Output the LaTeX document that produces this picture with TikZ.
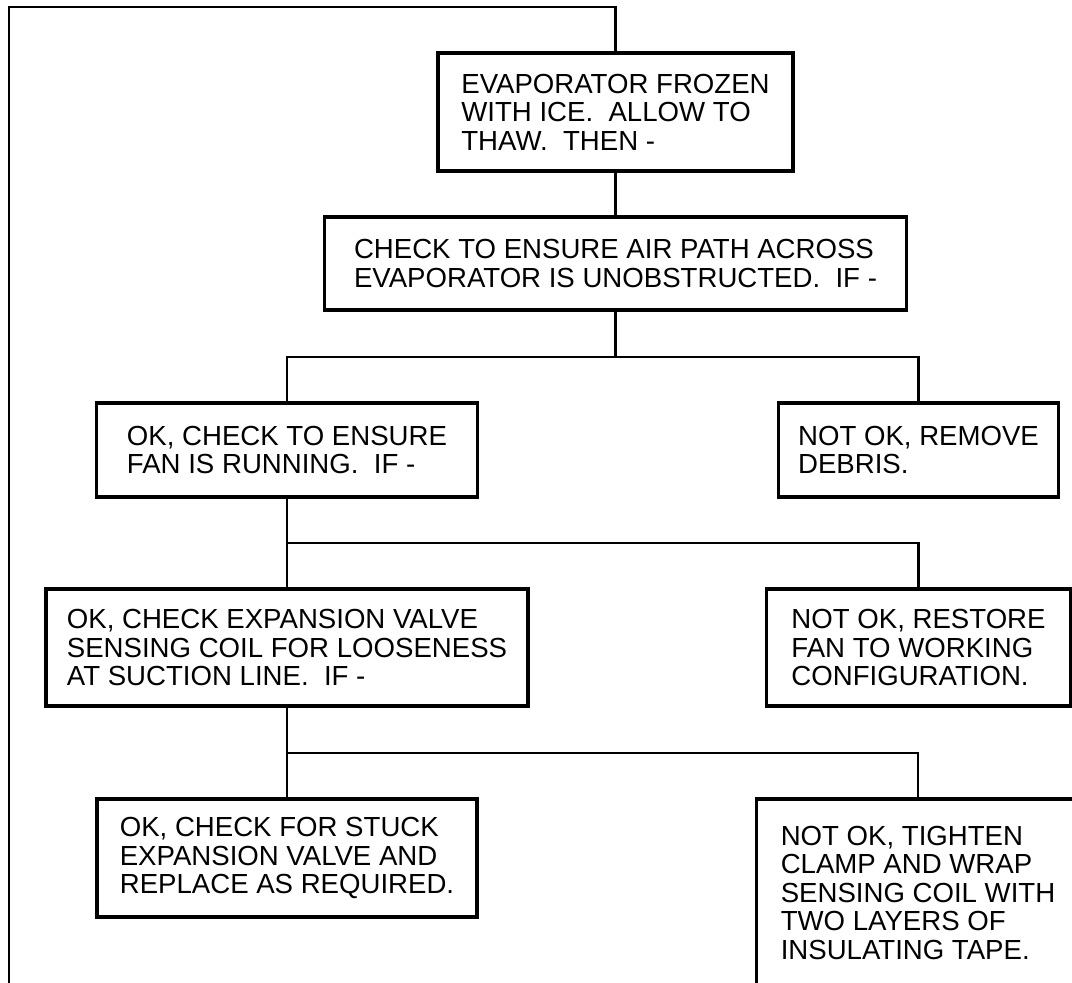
\documentclass[tikz,border=0pt]{standalone}
\usepackage{fontspec}
\setmainfont{Liberation Sans}
\tikzset{
  box/.style={draw, line width=3.2pt, align=left, inner sep=0pt, outer sep=0pt,
    font=\fontsize{27.6}{28.5}\selectfont},
  wire/.style={line width=2.7pt},
}
\begin{document}
\begin{tikzpicture}[x=1pt,y=-1pt]
\useasboundingbox (0,0) rectangle (1072,983);
\clip (0,0) rectangle (1072,983);
\node[box, minimum width=355pt, minimum height=118pt] (b1) at (615.5,112)
  {EVAPORATOR FROZEN\\WITH ICE.\ \ ALLOW TO\\THAW.\ \ THEN -};
\node[box, minimum width=582pt, minimum height=93pt] (b2) at (615.5,263.5)
  {CHECK TO ENSURE AIR PATH ACROSS\\EVAPORATOR IS UNOBSTRUCTED.\ \ IF -};
\node[box, minimum width=381pt, minimum height=94pt] (b3) at (287,450)
  {OK, CHECK TO ENSURE\\FAN IS RUNNING.\ \ IF -};
\node[box, minimum width=280pt, minimum height=94pt] (rm) at (918.5,450)
  {NOT OK, REMOVE\\DEBRIS.};
\node[box, minimum width=482pt, minimum height=117pt] (b4) at (287,647.5)
  {OK, CHECK EXPANSION VALVE\\SENSING COIL FOR LOOSENESS\\AT SUCTION LINE.\ \ IF -};
\node[box, minimum width=304pt, minimum height=117pt] (rs) at (918.5,647.5)
  {NOT OK, RESTORE\\FAN TO WORKING\\CONFIGURATION.};
\node[box, minimum width=380pt, minimum height=118pt] (b5) at (287,858)
  {OK, CHECK FOR STUCK\\EXPANSION VALVE AND\\REPLACE AS REQUIRED.};
\node[box, minimum width=323pt, minimum height=187pt] (b6) at (918,892.5)
  {NOT OK, TIGHTEN\\CLAMP AND WRAP\\SENSING COIL WITH\\TWO LAYERS OF\\INSULATING TAPE.};
\coordinate (bl) at (9,1000);
\coordinate (tl) at (9,7);
\coordinate (j1) at (615.5,357);
\coordinate (j2) at (287,543);
\coordinate (j3) at (287,753);
\draw[wire] (bl) -- (tl) -| (b1.north);
\draw[wire] (b1.south) -- (b2.north);
\draw[wire] (b2.south) -- (j1);
\draw[wire] (b3.north) |- (j1) -| (rm.north);
\draw[wire] (b3.south) -- (b4.north);
\draw[wire] (j2) -| (rs.north);
\draw[wire] (b4.south) -- (b5.north);
\draw[wire] (j3) -| (b6.north);
\end{tikzpicture}
\end{document}
